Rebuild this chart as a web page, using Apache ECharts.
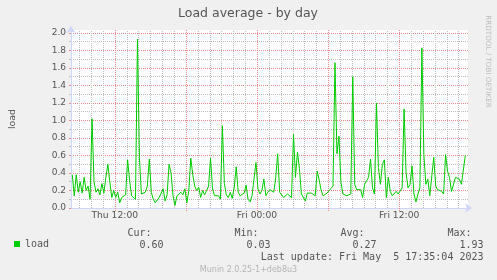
<!DOCTYPE html>
<html>
<head>
<meta charset="utf-8">
<script src="https://cdn.jsdelivr.net/npm/echarts@6/dist/echarts.min.js"></script>
<style>
html,body{margin:0;padding:0;background:#f0f0f0;}
#c{width:497px;height:280px;}
</style>
</head>
<body>
<div id="c"></div>
<script>
// ---- data (hours since Thu 00:00; one sample every 10 minutes) ----
var seriesName = 'load';
var startHour = 8 + 25 / 60;      // Thu 08:25
var stepHour = 10 / 60;           // 10-minute samples
var loadValues = [
  0.38,0.14,0.38,0.18,0.30,0.17,0.35,0.20,0.25,0.10,1.02,0.30,0.18,0.22,0.15,0.28,0.17,0.35,0.50,0.30,0.12,0.20,0.12,0.18,0.06,0.12,0.10,0.15,0.55,0.32,0.14,0.12,0.10,
  1.93,0.57,0.16,0.15,0.18,0.25,0.56,0.18,0.10,0.06,0.08,0.12,0.14,0.22,0.08,0.15,0.50,0.40,0.14,0.03,0.14,0.16,0.18,0.15,0.22,0.06,0.20,0.57,0.38,0.25,0.20,0.24,0.12,0.20,
  0.15,0.20,0.25,0.57,0.22,0.14,0.14,0.14,0.10,0.94,0.28,0.15,0.12,0.18,0.11,0.24,0.47,0.18,0.14,0.16,0.17,0.26,0.10,0.07,0.14,0.13,0.52,0.22,0.16,0.20,0.33,0.14,0.18,0.21,
  0.20,0.18,0.35,0.62,0.18,0.18,0.12,0.14,0.16,0.16,0.12,0.84,0.35,0.64,0.45,0.16,0.16,0.08,0.17,0.17,0.17,0.16,0.14,0.42,0.32,0.20,0.14,0.12,0.17,0.20,0.22,0.25,1.66,0.62,
  0.82,0.30,0.16,0.16,0.14,0.14,0.16,1.50,0.27,0.21,0.23,0.21,0.12,0.27,0.31,0.35,0.56,0.23,0.16,1.20,0.46,0.27,0.50,0.55,0.12,0.35,0.19,0.14,0.16,0.19,0.16,0.14,0.23,1.13,
  0.40,0.23,0.27,0.48,0.16,0.07,0.16,0.23,1.83,0.61,0.27,0.33,0.14,0.16,0.58,0.25,0.21,0.23,0.19,0.16,0.61,0.42,0.35,0.19,0.19,0.35,0.33,0.33,0.27,0.29,0.60
];
var xMinorHours = [9,10,11,13,14,15,16,17,19,20,21,22,23,25,26,27,28,29,31,32,33,34,35,37,38,39,40,41];
var xMajorHours = [12, 18, 24, 30, 36];
var xLabelTicks = [12, 24, 36];                  // "Thu 12:00", "Fri 00:00", "Fri 12:00"
var yMajorTicks = [0, 0.2, 0.4, 0.6, 0.8, 1.0, 1.2, 1.4, 1.6, 1.8, 2.0];
var yMinorTicks = [0.1, 0.3, 0.5, 0.7, 0.9, 1.1, 1.3, 1.5, 1.7, 1.9];
var statLabels = ['Cur:', 'Min:', 'Avg:', 'Max:'];
var statValues = ['0.60', '0.03', '0.27', '1.93'];
var titleText = 'Load average - by day';
var lastUpdate = 'Last update: Fri May  5 17:35:04 2023';
var footerText = 'Munin 2.0.25-1+deb8u3';
var sideText = 'RRDTOOL / TOBI OETIKER';

// ---- build ----
var seriesData = loadValues.map(function (v, i) { return [startHour + i * stepHour, v]; });

var FONT = 'DejaVu Sans';
var MONO = 'DejaVu Sans Mono';
var TXT = '#555555';
var AXIS = '#cfd6f8';
var MAJOR = '#eb8a8a';
var MINOR = '#c0c0c0';
var xMin = 8.308, xMax = 41.808, yMax = 2.034;

function fmtX(v) {
  var d = v < 24 ? 'Thu ' : 'Fri ';
  var hh = Math.round(v % 24);
  return d + (hh < 10 ? '0' : '') + hh + ':00';
}

function vGrid(name, hours, color, tickLen, z, withLabels) {
  return {
    name: name, type: 'custom', xAxisIndex: 0, yAxisIndex: 0, z: z, silent: true, clip: false,
    data: hours.map(function (v) { return [v, 0]; }),
    encode: {x: 0, y: 1}, tooltip: {show: false},
    renderItem: function (params, api) {
      var hv = api.value(0);
      var p0 = api.coord([hv, 0]);
      var p1 = api.coord([hv, yMax]);
      var px = Math.round(p0[0]) + 0.5;
      var children = [{
        type: 'line', silent: true,
        shape: {x1: px, y1: p0[1] + tickLen, x2: px, y2: p1[1]},
        style: {stroke: color, lineWidth: 1, lineDash: [1, 1]}
      }];
      if (withLabels && xLabelTicks.indexOf(hv) >= 0) {
        children.push({
          type: 'text', silent: true, x: p0[0], y: p0[1] + 3,
          style: {text: fmtX(hv), font: '9.2px "' + FONT + '"', fill: TXT, align: 'center', verticalAlign: 'top'}
        });
      }
      return {type: 'group', children: children};
    }
  };
}

var chart = echarts.init(document.getElementById('c'), null, {renderer: 'canvas'});
var statGraphics = [];
var statX = [151.5, 258.5, 364.5, 471.5];
for (var i = 0; i < statLabels.length; i++) {
  statGraphics.push({type: 'text', x: statX[i], y: 233.5,
    style: {text: statLabels[i], font: '10px "' + MONO + '"', fill: TXT, align: 'right', verticalAlign: 'middle'}});
  statGraphics.push({type: 'text', x: statX[i] + 12, y: 245,
    style: {text: statValues[i], font: '10px "' + MONO + '"', fill: TXT, align: 'right', verticalAlign: 'middle'}});
}

chart.setOption({
  animation: false,
  backgroundColor: '#f0f0f0',
  grid: {left: 66, right: 29, top: 30, bottom: 72, show: true, backgroundColor: '#ffffff', borderWidth: 0, containLabel: false},
  legend: {
    data: [seriesName], left: 14, top: 239, padding: 0, icon: 'rect', itemWidth: 6, itemHeight: 6,
    textStyle: {fontFamily: MONO, fontSize: 10, color: TXT}
  },
  xAxis: {
    type: 'value', min: xMin, max: xMax,
    axisLine: {show: true, lineStyle: {color: AXIS, width: 1}, symbol: ['none', 'arrow'], symbolSize: [7, 7], symbolOffset: [0, 4]},
    axisTick: {show: false},
    axisLabel: {show: false},
    splitLine: {show: false}, minorSplitLine: {show: false}, splitArea: {show: false}
  },
  yAxis: [{
    type: 'value', min: 0, max: yMax,
    name: seriesName, nameLocation: 'middle', nameGap: 54, nameRotate: 90,
    nameTextStyle: {fontFamily: FONT, fontSize: 9.4, color: TXT},
    axisLine: {show: true, lineStyle: {color: AXIS, width: 1}, symbol: ['none', 'arrow'], symbolSize: [7, 7], symbolOffset: [0, 4]},
    axisTick: {show: true, customValues: yMajorTicks, length: 2, lineStyle: {color: MAJOR}},
    axisLabel: {customValues: yMajorTicks, formatter: function (v) { return v.toFixed(1); }, fontFamily: FONT, fontSize: 9, color: TXT, margin: 5},
    splitLine: {show: true, lineStyle: {color: MAJOR, type: [1, 1], width: 1}}
  }, {
    type: 'value', min: 0, max: yMax, position: 'left',
    axisLine: {show: false}, axisLabel: {show: false},
    axisTick: {show: true, customValues: yMinorTicks, length: 2, lineStyle: {color: MINOR}},
    splitLine: {show: true, lineStyle: {color: MINOR, type: [1, 1], width: 1}}
  }],
  series: [
    vGrid('xgridMinor', xMinorHours, MINOR, 0, 1, false),
    vGrid('xgridMajor', xMajorHours, MAJOR, 3, 4, true),
    {
      name: seriesName, type: 'line', xAxisIndex: 0, yAxisIndex: 0,
      data: seriesData, showSymbol: false, symbol: 'none',
      lineStyle: {color: '#00cc00', width: 1}, itemStyle: {color: '#00cc00'},
      z: 5
    }
  ],
  graphic: [
    {type: 'text', x: 248, y: 14, style: {text: titleText, font: '12.5px "' + FONT + '"', fill: TXT, align: 'center', verticalAlign: 'middle'}},
    {type: 'text', x: 488, y: 61.5, rotation: -Math.PI / 2,
      style: {text: sideText, font: '7.2px "' + FONT + '"', fill: '#bdbdbd', align: 'center', verticalAlign: 'middle'}},
    {type: 'text', x: 483.5, y: 257.5, style: {text: lastUpdate, font: '10px "' + MONO + '"', fill: TXT, align: 'right', verticalAlign: 'middle'}},
    {type: 'text', x: 248.5, y: 269.5, style: {text: footerText, font: '8px "' + FONT + '"', fill: '#b5b5b5', align: 'center', verticalAlign: 'middle'}}
  ].concat(statGraphics)
});
</script>
</body>
</html>
